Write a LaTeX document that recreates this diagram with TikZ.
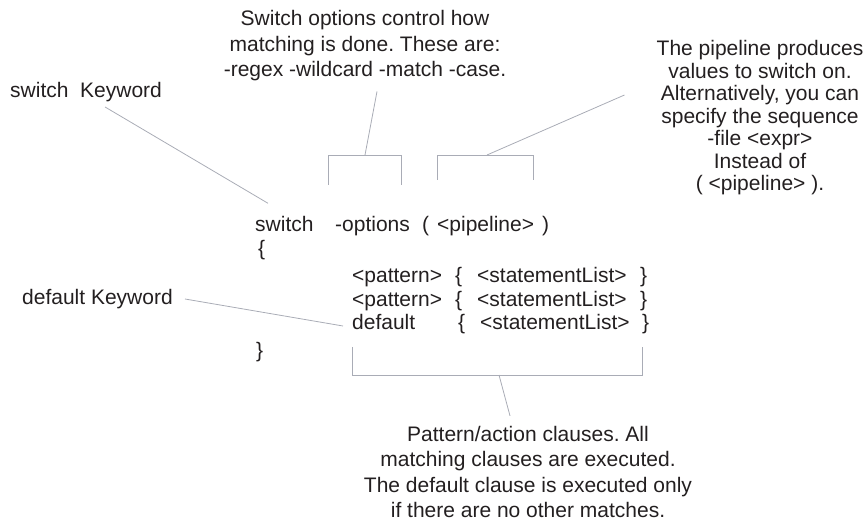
\documentclass[tikz,border=0pt]{standalone}
\usepackage{fontspec}
\setmainfont{Liberation Sans}
\usetikzlibrary{calc}

\definecolor{txt}{HTML}{231F20}
\definecolor{lead}{HTML}{A9ACB6}

\tikzset{
  note/.style={align=center,inner sep=0pt,text=txt,font=\fontsize{21}{22.5}\selectfont},
  code/.style={anchor=west,inner sep=0pt,text height=15pt,text depth=4pt,text=txt,font=\fontsize{21}{22.5}\selectfont},
  leader/.style={draw=lead,line width=0.8pt}
}
\frenchspacing

\begin{document}
\begin{tikzpicture}[x=1pt,y=-1pt]
  \useasboundingbox (0,0) rectangle (868,521);

  % notes round the syntax
  \node[note,anchor=west](swkey) at (10,92) {switch\ \ Keyword};
  \node[note,anchor=west](defkey) at (22,299) {default Keyword};
  \node[note,font=\fontsize{21}{25.5}\selectfont](optnote) at (365,46)
    {Switch options control how\\matching is done. These are:\\-regex -wildcard -match -case.};
  \node[note](pipenote) at (760,118)
    {The pipeline produces\\values to switch on.\\Alternatively, you can\\specify the sequence\\-file <expr>\\Instead of\\( <pipeline> ).};
  \node[note,font=\fontsize{21}{25.5}\selectfont](clausenote) at (528,472)
    {Pattern/action clauses. All\\matching clauses are executed.\\The default clause is executed only\\if there are no other matches.};

  % the statement itself
  \node[code](sw) at (255,226) {switch};
  \node[code](opts) at (335,226) {-options};
  \node[code](lpar) at (422,226) {(};
  \node[code](pipe) at (437,226) {<pipeline>};
  \node[code](rpar) at (542,226) {)};
  \node[code](open) at (258,250) {\{};
  \node[code](pat1) at (352,277) {<pattern>};
  \node[code](lb1) at (455,277) {\{};
  \node[code](stl1) at (477,277) {<statementList>};
  \node[code](rb1) at (640,277) {\}};
  \node[code](pat2) at (352,301) {<pattern>};
  \node[code](lb2) at (455,301) {\{};
  \node[code](stl2) at (477,301) {<statementList>};
  \node[code](rb2) at (640,301) {\}};
  \node[code](dflt) at (352,324) {default};
  \node[code](lb3) at (458,324) {\{};
  \node[code](stl3) at (480,324) {<statementList>};
  \node[code](rb3) at (642,324) {\}};
  \node[code](close) at (256,352) {\}};

  % brackets
  \draw[leader] (328,185) -- (328,155) -- (401,155) -- (401,185);
  \draw[leader] (437,180) -- (437,155) -- (533,155) -- (533,180);
  \draw[leader] (352,347) -- (352,375) -- (642,375) -- (642,347);
  \coordinate (optmid) at (365,155);
  \coordinate (pipemid) at (487,155);
  \coordinate (clmid) at (499,375);

  % leaders
  \draw[leader] ([xshift=19pt,yshift=-5pt]swkey.south) -- ([xshift=13pt,yshift=13pt]sw.north west);
  \draw[leader] ([xshift=12pt,yshift=-10pt]optnote.south) -- (optmid);
  \draw[leader] ([xshift=-32pt,yshift=23pt]pipenote.west) -- (pipemid);
  \draw[leader] ([xshift=12pt]defkey.east) -- ([xshift=-9pt,yshift=-2pt]dflt.west);
  \draw[leader] (clmid) -- ([xshift=-18pt,yshift=10pt]clausenote.north);
\end{tikzpicture}
\end{document}
